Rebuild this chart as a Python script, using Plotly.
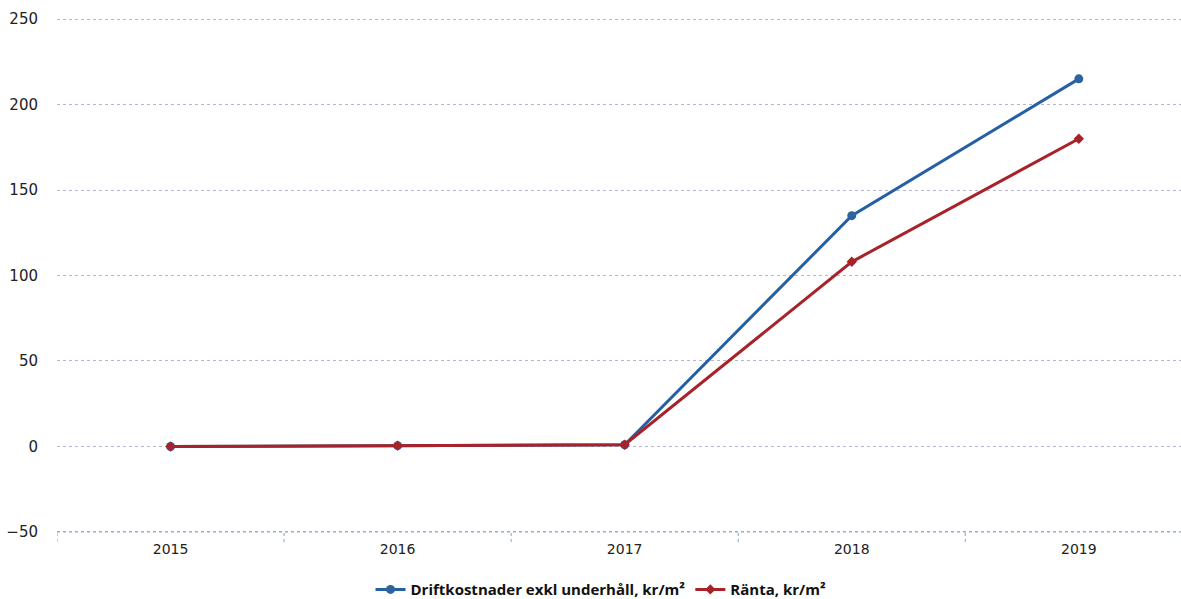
import plotly.graph_objects as go

years = ["2015", "2016", "2017", "2018", "2019"]
drift = [0, 0.5, 1, 135, 215]
ranta = [0, 0.5, 1, 108, 180]

fig = go.Figure()
fig.add_trace(go.Scatter(
    x=years, y=drift, mode="lines+markers", name="Driftkostnader exkl underhåll, kr/m²",
    line=dict(color="#2660a4", width=3), marker=dict(symbol="circle", size=9, color="#2e63a0")))
fig.add_trace(go.Scatter(
    x=years, y=ranta, mode="lines+markers", name="Ränta, kr/m²",
    line=dict(color="#a8222a", width=3), marker=dict(symbol="diamond", size=8, color="#a8222a")))

# dotted blue category axis line and boundary ticks
fig.add_shape(type="line", xref="paper", yref="y", x0=0, x1=1, y0=-50, y1=-50,
              line=dict(color="#7fa3d6", width=1, dash="dot"))
for k in range(5):
    fig.add_shape(type="line", xref="x", yref="paper", x0=k - 0.5, x1=k - 0.5, y0=0, y1=-0.018,
                  line=dict(color="#7fa3d6", width=1, dash="dot"))

fig.update_layout(
    width=1181, height=599,
    margin=dict(l=57, r=0, t=18, b=66, autoexpand=False),
    paper_bgcolor="white", plot_bgcolor="white",
    font=dict(family="DejaVu Sans", size=14, color="#222"),
    showlegend=True,
    legend=dict(orientation="h", x=0.484, xanchor="center", y=-0.11, yanchor="middle",
                font=dict(family="Open Sans", size=15, color="#111", weight="bold"),
                tracegroupgap=0),
)
fig.update_xaxes(type="category", range=[-0.5, 4.45], showgrid=False, showline=False,
                 zeroline=False, ticks="", tickfont=dict(size=14, color="#222"),
                 ticklabelstandoff=6)
fig.update_yaxes(range=[-50.6, 250.6], tickvals=[-50, 0, 50, 100, 150, 200, 250],
                 showgrid=True, gridcolor="#b8b4d0", griddash="dot", gridwidth=1,
                 zeroline=False, showline=False, ticks="", ticklabelstandoff=18,
                 tickfont=dict(size=15, color="#222"))

fig.write_html("out.html")
